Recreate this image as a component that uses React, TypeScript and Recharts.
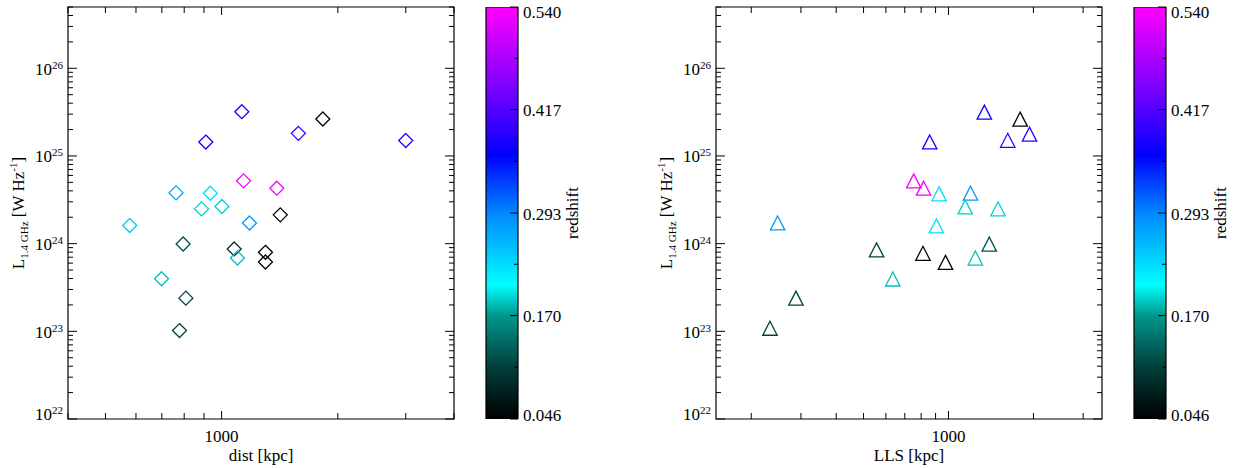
import React from 'react'
import { ScatterChart, Scatter, XAxis, YAxis, ReferenceArea, BarChart, Bar } from 'recharts'

const FONT = '"Liberation Serif", "Times New Roman", serif'
const INK = '#000'

// left panel: projected distance vs radio power
const distKpc = [578, 762, 910, 1128, 1581, 1829, 2999, 1140, 1390, 935, 887, 1002, 1181, 1419, 795, 1078, 1099, 1299, 1299, 699, 808, 778]
const distLum = [1.61e24, 3.79e24, 1.44e25, 3.2e25, 1.81e25, 2.64e25, 1.5e25, 5.2e24, 4.29e24, 3.76e24, 2.49e24, 2.65e24, 1.72e24, 2.13e24, 9.9e23, 8.7e23, 6.86e23, 7.96e23, 6.17e23, 3.98e23, 2.39e23, 1.02e23]
const distZ = [0.244, 0.278, 0.372, 0.372, 0.392, 0.05, 0.392, 0.535, 0.53, 0.229, 0.19, 0.19, 0.278, 0.05, 0.12, 0.095, 0.185, 0.05, 0.055, 0.184, 0.11, 0.11]

// right panel: largest linear size vs radio power
const llsKpc = [233, 288, 248, 556, 635, 812, 976, 1245, 1395, 906, 753, 816, 926, 1197, 1146, 1498, 858, 1340, 1622, 1937, 1795]
const llsLum = [1.02e23, 2.25e23, 1.62e24, 8.0e23, 3.72e23, 7.3e23, 5.75e23, 6.45e23, 9.3e23, 1.5e24, 4.89e24, 4.04e24, 3.48e24, 3.54e24, 2.47e24, 2.35e24, 1.36e25, 2.98e25, 1.42e25, 1.67e25, 2.48e25]
const llsZ = [0.11, 0.11, 0.278, 0.11, 0.184, 0.05, 0.055, 0.185, 0.12, 0.229, 0.535, 0.53, 0.229, 0.278, 0.19, 0.19, 0.372, 0.372, 0.392, 0.392, 0.05]

const zRange = [0.046, 0.54]
const zMajor = [0.046, 0.17, 0.293, 0.417, 0.54]
const zMajorLabels = ['0.046', '0.170', '0.293', '0.417', '0.540']
const zMinor = [0.108, 0.2315, 0.355, 0.4785]

const lumDomain = [1e22, 5e26]
const distDomain = [400, 4000]
const llsDomain = [150, 3500]
const xLabelled = [1000]

// colour table: fraction, r, g, b
const cmap = [
  [0, 0, 0, 0],
  [0.12, 0, 60, 55],
  [0.25, 0, 150, 140],
  [0.325, 0, 255, 255],
  [0.5, 0, 135, 255],
  [0.64, 0, 0, 255],
  [0.8, 120, 0, 255],
  [1, 255, 0, 255],
]

function zColor(z: number) {
  const f = Math.min(1, Math.max(0, (z - zRange[0]) / (zRange[1] - zRange[0])))
  for (let i = 1; i < cmap.length; i++) {
    const a = cmap[i - 1]
    const b = cmap[i]
    if (f <= b[0]) {
      const t = (f - a[0]) / (b[0] - a[0])
      const c = [1, 2, 3].map(k => Math.round(a[k] + t * (b[k] - a[k])))
      return `rgb(${c[0]},${c[1]},${c[2]})`
    }
  }
  return 'rgb(255,0,255)'
}

function logTicks(lo: number, hi: number) {
  const out: number[] = []
  for (let e = Math.floor(Math.log10(lo)); e <= Math.ceil(Math.log10(hi)); e++) {
    for (let m = 1; m < 10; m++) {
      const v = Number((m * Math.pow(10, e)).toPrecision(6))
      if (v >= lo * 0.999 && v <= hi * 1.001) out.push(v)
    }
  }
  return out
}

const toPoints = (xs: number[], ys: number[], zs: number[]) =>
  xs.map((x, i) => ({ x, y: ys[i], z: zs[i] }))

function Diamond({ cx, cy, payload }: any) {
  const r = 7
  return (
    <polygon
      points={`${cx},${cy - r} ${cx + r},${cy} ${cx},${cy + r} ${cx - r},${cy}`}
      fill="none"
      stroke={zColor(payload.z)}
      strokeWidth={1.3}
    />
  )
}

function Triangle({ cx, cy, payload }: any) {
  return (
    <polygon
      points={`${cx},${cy - 9.3} ${cx + 7.2},${cy + 4.7} ${cx - 7.2},${cy + 4.7}`}
      fill="none"
      stroke={zColor(payload.z)}
      strokeWidth={1.3}
    />
  )
}

function XTick({ x, y, payload, plotTop }: any) {
  const v = payload.value
  const labelled = xLabelled.some(t => Math.abs(t - v) < 1e-6)
  const len = labelled ? 8 : 6
  return (
    <g>
      <line x1={x} y1={y} x2={x} y2={y - len} stroke={INK} />
      <line x1={x} y1={plotTop} x2={x} y2={plotTop + len} stroke={INK} />
      {labelled && (
        <text x={x} y={y + 23} textAnchor="middle" fontFamily={FONT} fontSize={17} fill={INK}>
          {v}
        </text>
      )}
    </g>
  )
}

function YTick({ x, y, payload, plotRight }: any) {
  const v = payload.value
  const exp = Math.log10(v)
  const major = Math.abs(exp - Math.round(exp)) < 1e-6
  const len = major ? 9 : 5
  const dy = Math.abs(v - lumDomain[0]) / v < 1e-6 ? 1 : 6.5
  return (
    <g>
      <line x1={x} y1={y} x2={x + len} y2={y} stroke={INK} />
      <line x1={plotRight} y1={y} x2={plotRight - len} y2={y} stroke={INK} />
      {major && (
        <text x={x - 5} y={y + dy} textAnchor="end" fontFamily={FONT} fontSize={17} fill={INK}>
          <tspan>10</tspan>
          <tspan dy={-6} fontSize={11}>{Math.round(exp)}</tspan>
        </text>
      )}
    </g>
  )
}

function ZTick({ x, y, payload }: any) {
  const v = payload.value
  const idx = zMajor.findIndex(t => Math.abs(t - v) < 1e-6)
  const major = idx >= 0
  const len = major ? 8 : 4
  const dy = idx === zMajor.length - 1 ? 11 : idx === 0 ? 2 : 6.5
  return (
    <g>
      <line x1={x} y1={y} x2={x - len} y2={y} stroke={INK} />
      {major && (
        <text x={x + 5} y={y + dy} textAnchor="start" fontFamily={FONT} fontSize={17} fill={INK}>
          {zMajorLabels[idx]}
        </text>
      )}
    </g>
  )
}

function LumTitle({ viewBox }: any) {
  const vb = viewBox || { x: 0, y: 7, width: 60, height: 412 }
  const tx = vb.x + vb.width - 44
  const ty = vb.y + vb.height / 2
  return (
    <text transform={`translate(${tx},${ty}) rotate(-90)`} textAnchor="middle" fontFamily={FONT} fontSize={17} fill={INK}>
      <tspan>L</tspan>
      <tspan dy={4} fontSize={11}>1.4 GHz</tspan>
      <tspan dy={-4}> [W Hz</tspan>
      <tspan dy={-7} fontSize={11}>-1</tspan>
      <tspan dy={7}>]</tspan>
    </text>
  )
}

function Panel({ left, width, marginLeft, marginRight, data, xDomain, xTitle, marker }: any) {
  const plotTop = 7
  const plotRight = width - marginRight
  return (
    <div style={{ position: 'absolute', left, top: 0 }}>
      <ScatterChart width={width} height={468} margin={{ top: plotTop, right: marginRight, bottom: 19, left: marginLeft }}>
        <XAxis
          type="number"
          dataKey="x"
          scale="log"
          domain={xDomain}
          allowDataOverflow
          ticks={logTicks(xDomain[0], xDomain[1])}
          interval={0}
          height={30}
          tickSize={0}
          tickMargin={0}
          tickLine={false}
          axisLine={false}
          tick={(p: any) => <XTick {...p} plotTop={plotTop} />}
          label={{
            content: ({ viewBox }: any) => (
              <text
                x={viewBox.x + viewBox.width / 2}
                y={viewBox.y + 42}
                textAnchor="middle"
                fontFamily={FONT}
                fontSize={17}
                fill={INK}
              >
                {xTitle}
              </text>
            ),
          }}
        />
        <YAxis
          type="number"
          dataKey="y"
          scale="log"
          domain={lumDomain}
          allowDataOverflow
          ticks={logTicks(lumDomain[0], lumDomain[1])}
          interval={0}
          width={60}
          tickSize={0}
          tickMargin={0}
          tickLine={false}
          axisLine={false}
          tick={(p: any) => <YTick {...p} plotRight={plotRight} />}
          label={{ content: (p: any) => <LumTitle {...p} /> }}
        />
        <ReferenceArea
          x1={xDomain[0]}
          x2={xDomain[1]}
          y1={lumDomain[0]}
          y2={lumDomain[1]}
          fill="none"
          fillOpacity={0}
          stroke={INK}
          strokeWidth={1.2}
        />
        <Scatter data={data} isAnimationActive={false} shape={marker} />
      </ScatterChart>
    </div>
  )
}

function ColorBar({ left, gradId }: any) {
  return (
    <div style={{ position: 'absolute', left, top: 0 }}>
      <BarChart
        width={109}
        height={468}
        data={[{ name: 'z', span: zRange }]}
        margin={{ top: 7, right: 0, bottom: 49, left: 6 }}
        barCategoryGap={0}
      >
        <defs>
          <linearGradient id={gradId} x1="0" y1="1" x2="0" y2="0">
            {cmap.map(s => (
              <stop key={s[0]} offset={s[0]} stopColor={`rgb(${s[1]},${s[2]},${s[3]})`} />
            ))}
          </linearGradient>
        </defs>
        <XAxis dataKey="name" hide />
        <YAxis
          orientation="right"
          type="number"
          domain={zRange}
          allowDataOverflow
          ticks={[...zMajor, ...zMinor].sort((a, b) => a - b)}
          interval={0}
          width={71}
          tickSize={0}
          tickMargin={0}
          tickLine={false}
          axisLine={false}
          tick={(p: any) => <ZTick {...p} />}
          label={{
            content: ({ viewBox }: any) => (
              <text
                transform={`translate(${viewBox.x + 60},${viewBox.y + viewBox.height / 2}) rotate(-90)`}
                textAnchor="middle"
                fontFamily={FONT}
                fontSize={17}
                fill={INK}
              >
                redshift
              </text>
            ),
          }}
        />
        <Bar dataKey="span" fill={`url(#${gradId})`} stroke={INK} strokeWidth={1.2} isAnimationActive={false} />
      </BarChart>
    </div>
  )
}

export default function App() {
  return (
    <div style={{ position: 'absolute', left: 0, top: 0, width: 1237, height: 468, background: '#fff' }}>
      <Panel
        left={0}
        width={470}
        marginLeft={8}
        marginRight={16}
        data={toPoints(distKpc, distLum, distZ)}
        xDomain={distDomain}
        xTitle="dist [kpc]"
        marker={Diamond}
      />
      <ColorBar left={480} gradId="zgradL" />
      <Panel
        left={640}
        width={480}
        marginLeft={16}
        marginRight={18}
        data={toPoints(llsKpc, llsLum, llsZ)}
        xDomain={llsDomain}
        xTitle="LLS [kpc]"
        marker={Triangle}
      />
      <ColorBar left={1128} gradId="zgradR" />
    </div>
  )
}
